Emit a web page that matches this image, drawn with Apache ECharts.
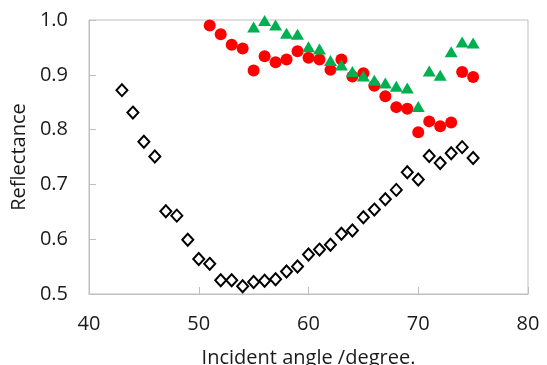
<!DOCTYPE html>
<html>
<head>
<meta charset="utf-8">
<script src="https://cdn.jsdelivr.net/npm/echarts@6/dist/echarts.min.js"></script>
<style>html,body{margin:0;padding:0;background:#fff;}#c{width:547px;height:365px;}</style>
</head>
<body>
<div id="c"></div>
<script>
// Incident angles (degree)
const anglesDiamond = [43,44,45,46,47,48,49,50,51,52,53,54,55,56,57,58,59,60,61,62,63,64,65,66,67,68,69,70,71,72,73,74,75];
const reflDiamond = [0.872,0.831,0.778,0.751,0.651,0.643,0.599,0.564,0.555,0.525,0.525,0.514,0.522,0.524,0.527,0.541,0.550,0.572,0.581,0.590,0.610,0.616,0.640,0.654,0.673,0.690,0.722,0.709,0.752,0.739,0.757,0.768,0.748];

const anglesCircle = [51,52,53,54,55,56,57,58,59,60,61,62,63,64,65,66,67,68,69,70,71,72,73,74,75];
const reflCircle = [0.990,0.974,0.955,0.948,0.908,0.934,0.923,0.928,0.943,0.931,0.928,0.909,0.928,0.897,0.903,0.880,0.861,0.841,0.838,0.795,0.815,0.806,0.813,0.905,0.896];

const anglesTriangle = [55,56,57,58,59,60,61,62,63,64,65,66,67,68,69,70,71,72,73,74,75];
const reflTriangle = [0.987,0.999,0.991,0.976,0.974,0.951,0.947,0.926,0.918,0.906,0.898,0.890,0.885,0.879,0.876,0.842,0.907,0.899,0.942,0.960,0.958];

const xTicks = [40,50,60,70,80];
const yTicks = [0.5,0.6,0.7,0.8,0.9,1.0];

const zip = (xs, ys) => xs.map((x, i) => [x, ys[i]]);
const FONT = 'Open Sans';
const chart = echarts.init(document.getElementById('c'), null, {renderer: 'canvas'});
chart.setOption({
  animation: false,
  backgroundColor: '#fff',
  grid: {left: 89, right: 19, top: 20, bottom: 71, show: true, borderColor: '#bfbfbf', borderWidth: 1,
         containLabel: false, outerBoundsMode: 'none'},
  xAxis: {
    type: 'value', min: xTicks[0], max: xTicks[xTicks.length-1], interval: 10,
    name: 'Incident angle /degree.', nameLocation: 'middle', nameGap: 54,
    nameTextStyle: {fontFamily: FONT, fontSize: 20, color: '#1a1a1a'},
    axisLine: {show: true, lineStyle: {color: '#bfbfbf', width: 1}},
    axisTick: {show: true, inside: true, length: 7, lineStyle: {color: '#bfbfbf'}},
    axisLabel: {fontFamily: FONT, fontSize: 20, color: '#1a1a1a', margin: 20, formatter: v => String(v)},
    splitLine: {show: false}
  },
  yAxis: {
    type: 'value', min: yTicks[0], max: yTicks[yTicks.length-1], interval: 0.1,
    name: 'Reflectance', nameLocation: 'middle', nameGap: 57,
    nameTextStyle: {fontFamily: FONT, fontSize: 20, color: '#1a1a1a'},
    axisLine: {show: true, lineStyle: {color: '#bfbfbf', width: 1}},
    axisTick: {show: true, inside: true, length: 7, lineStyle: {color: '#bfbfbf'}},
    axisLabel: {fontFamily: FONT, fontSize: 20, color: '#1a1a1a', margin: 21, formatter: v => v.toFixed(1)},
    splitLine: {show: false}
  },
  series: [
    {type: 'scatter', data: zip(anglesDiamond, reflDiamond), symbol: 'diamond', symbolSize: [11, 12],
     itemStyle: {color: '#fff', borderColor: '#000', borderWidth: 2, opacity: 1}, z: 2},
    {type: 'scatter', data: zip(anglesCircle, reflCircle), symbol: 'circle', symbolSize: 12,
     itemStyle: {color: '#ff0000', opacity: 1}, z: 3},
    {type: 'scatter', data: zip(anglesTriangle, reflTriangle), symbol: 'triangle', symbolSize: [13, 11],
     itemStyle: {color: '#00b050', opacity: 1}, z: 4}
  ]
});
</script>
</body>
</html>
